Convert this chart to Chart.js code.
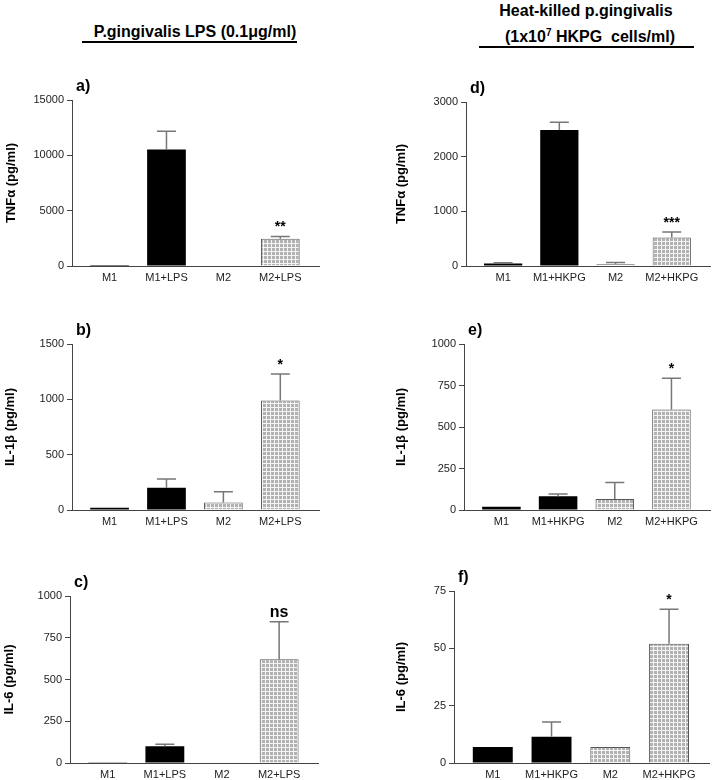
<!DOCTYPE html>
<html>
<head>
<meta charset="utf-8">
<script src="https://cdn.jsdelivr.net/npm/chart.js@4.4.0/dist/chart.umd.min.js"></script>
<style>
  body { margin: 0; background: #fff; }
  #page { position: relative; width: 714px; height: 780px; overflow: hidden; font-family: "Liberation Sans", Arial, Helvetica, sans-serif; }
  #page canvas { position: absolute; }
  .head { position: absolute; font-weight: bold; font-size: 16px; line-height: 20px; text-align: center; color: #000; white-space: nowrap; }
  .rule { position: absolute; height: 2px; background: #000; }
  sup { font-size: 10px; line-height: 0; vertical-align: 6px; }
</style>
</head>
<body>
<div id="page">
  <div class="head" style="left:40px; top:22px; width:310px;">P.gingivalis LPS (0.1μg/ml)</div>
  <div class="rule" style="left:82px; top:41px; width:215px;"></div>
  <div class="head" style="left:436px; top:1px; width:300px;">Heat-killed p.gingivalis</div>
  <div class="head" style="left:440px; top:27px; width:300px;">(1x10<sup>7</sup> HKPG&nbsp; cells/ml)</div>
  <div class="rule" style="left:479px; top:46px; width:215px;"></div>
</div>
<script>
// categories
const catsLPS = ['M1', 'M1+LPS', 'M2', 'M2+LPS'];
const catsHK = ['M1', 'M1+HKPG', 'M2', 'M2+HKPG'];

// a) TNFa, LPS
const tnfLpsMean = [90, 10520, 0, 2460];
const tnfLpsErr = [0, 1650, 0, 210];
// b) IL-1b, LPS
const il1LpsMean = [20, 200, 67, 990];
const il1LpsErr = [0, 80, 97, 240];
// c) IL-6, LPS
const il6LpsMean = [5, 100, 5, 622];
const il6LpsErr = [0, 12, 0, 224];
// d) TNFa, HKPG
const tnfHkMean = [45, 2490, 30, 520];
const tnfHkErr = [15, 140, 35, 100];
// e) IL-1b, HKPG
const il1HkMean = [20, 83, 67, 605];
const il1HkErr = [0, 14, 98, 188];
// f) IL-6, HKPG
const il6HkMean = [7, 11.5, 7, 52];
const il6HkErr = [0, 6.4, 0, 15];

// significance marks
const sigA = ['', '', '', '**'];
const sigB = ['', '', '', '*'];
const sigC = ['', '', '', 'ns'];
const sigD = ['', '', '', '***'];
const sigE = ['', '', '', '*'];
const sigF = ['', '', '', '*'];

// y axis ticks (max, step)
const yMaxA = 15000, yStepA = 5000;
const yMaxB = 1500, yStepB = 500;
const yMaxC = 1000, yStepC = 250;
const yMaxD = 3000, yStepD = 1000;
const yMaxE = 1000, yStepE = 250;
const yMaxF = 75, yStepF = 25;

const FONT = '"Liberation Sans", Arial, Helvetica, sans-serif';

// grey grid fill used for the M2 bars
function gridPattern() {
  const c = document.createElement('canvas');
  c.width = 4; c.height = 4;
  const g = c.getContext('2d');
  g.fillStyle = '#f4f4f4';
  g.fillRect(0, 0, 4, 4);
  g.fillStyle = '#b2b2b2';
  g.fillRect(0, 0, 3, 3);
  return g.createPattern(c, 'repeat');
}

// error bars, significance marks and panel letter
const extras = {
  id: 'extras',
  afterDatasetsDraw(chart) {
    const o = chart.options.plugins.extras;
    const ctx = chart.ctx;
    const meta = chart.getDatasetMeta(0);
    const y = chart.scales.y;
    ctx.save();
    meta.data.forEach((bar, i) => {
      const v = o.mean[i], e = o.err[i];
      const yTop = y.getPixelForValue(v + e);
      if (e > 0) {
        const yBar = y.getPixelForValue(v);
        ctx.strokeStyle = '#777';
        ctx.lineWidth = 1.5;
        ctx.beginPath();
        ctx.moveTo(bar.x, yBar);
        ctx.lineTo(bar.x, yTop);
        ctx.moveTo(bar.x - 9.5, yTop);
        ctx.lineTo(bar.x + 9.5, yTop);
        ctx.stroke();
      }
      const s = o.sig[i];
      if (s) {
        ctx.fillStyle = '#000';
        ctx.textAlign = 'center';
        ctx.textBaseline = 'alphabetic';
        ctx.font = s === 'ns' ? 'bold 16px ' + FONT : 'bold 14px ' + FONT;
        ctx.fillText(s, bar.x, yTop - 5);
      }
    });
    ctx.fillStyle = '#000';
    ctx.font = 'bold 16px ' + FONT;
    ctx.textAlign = 'left';
    ctx.textBaseline = 'middle';
    ctx.fillText(o.letter, chart.chartArea.left + 4, chart.chartArea.top - 13);
    ctx.restore();
  }
};

function panel(p) {
  const PT = 24, PR = 6, XH = 22;
  const cl = p.titleX - 8;
  const ct = p.T - PT;
  const cv = document.createElement('canvas');
  cv.width = p.R - cl + PR;
  cv.height = p.B - ct + XH + 2;
  cv.style.left = cl + 'px';
  cv.style.top = ct + 'px';
  document.getElementById('page').appendChild(cv);
  const pat = gridPattern();
  const fills = ['#000', '#000', pat, pat];
  const borders = ['#000', '#000', '#555', '#555'];
  new Chart(cv, {
    type: 'bar',
    data: {
      datasets: [{
        data: p.cats.map((c, i) => ({ x: i, y: p.mean[i] })),
        backgroundColor: fills,
        borderColor: borders,
        borderWidth: [0, 0, 1, 1],
        categoryPercentage: 0.8,
        barPercentage: 0.85
      }]
    },
    options: {
      responsive: false,
      animation: false,
      layout: { padding: { top: PT, right: PR, left: 0, bottom: 0 } },
      plugins: {
        legend: { display: false },
        tooltip: { enabled: false },
        extras: { mean: p.mean, err: p.err, sig: p.sig, letter: p.letter }
      },
      scales: {
        x: {
          type: 'linear',
          offset: false,
          min: -0.66,
          max: 3.68,
          grid: { drawOnChartArea: false, drawTicks: false },
          border: { display: true, color: '#444', width: 1 },
          ticks: {
            stepSize: 1,
            includeBounds: false,
            padding: 5,
            color: '#222',
            font: { family: FONT, size: 11 },
            callback: (v) => (Number.isInteger(v) && p.cats[v] !== undefined ? p.cats[v] : '')
          },
          afterFit: (s) => { s.height = XH; s.paddingLeft = 0; s.paddingRight = 0; }
        },
        y: {
          min: 0,
          max: p.yMax,
          grid: { drawOnChartArea: false, drawTicks: true, tickLength: 5, color: '#444' },
          border: { display: true, color: '#444', width: 1 },
          ticks: {
            stepSize: p.yStep,
            padding: 3,
            color: '#222',
            font: { family: FONT, size: 11 },
            callback: (v) => String(v)
          },
          title: {
            display: true,
            text: p.yTitle,
            color: '#000',
            padding: 0,
            font: { family: FONT, size: 13, weight: 'bold' }
          },
          afterFit: (s) => { s.width = p.L - cl; s.paddingTop = 0; s.paddingBottom = 0; }
        }
      }
    },
    plugins: [extras]
  });
}

panel({ letter: 'a)', cats: catsLPS, mean: tnfLpsMean, err: tnfLpsErr, sig: sigA, yMax: yMaxA, yStep: yStepA,
  yTitle: 'TNFα (pg/ml)', titleX: 12, L: 72, R: 319, T: 100, B: 264 });
panel({ letter: 'b)', cats: catsLPS, mean: il1LpsMean, err: il1LpsErr, sig: sigB, yMax: yMaxB, yStep: yStepB,
  yTitle: 'IL-1β (pg/ml)', titleX: 11, L: 72, R: 319, T: 344, B: 508 });
panel({ letter: 'c)', cats: catsLPS, mean: il6LpsMean, err: il6LpsErr, sig: sigC, yMax: yMaxC, yStep: yStepC,
  yTitle: 'IL-6 (pg/ml)', titleX: 10, L: 70, R: 318, T: 596, B: 761 });
panel({ letter: 'd)', cats: catsHK, mean: tnfHkMean, err: tnfHkErr, sig: sigD, yMax: yMaxD, yStep: yStepD,
  yTitle: 'TNFα (pg/ml)', titleX: 402, L: 466, R: 710, T: 102, B: 264 });
panel({ letter: 'e)', cats: catsHK, mean: il1HkMean, err: il1HkErr, sig: sigE, yMax: yMaxE, yStep: yStepE,
  yTitle: 'IL-1β (pg/ml)', titleX: 402, L: 464, R: 710, T: 344, B: 508 });
panel({ letter: 'f)', cats: catsHK, mean: il6HkMean, err: il6HkErr, sig: sigF, yMax: yMaxF, yStep: yStepF,
  yTitle: 'IL-6 (pg/ml)', titleX: 402, L: 454, R: 709, T: 591, B: 761 });
</script>
</body>
</html>
